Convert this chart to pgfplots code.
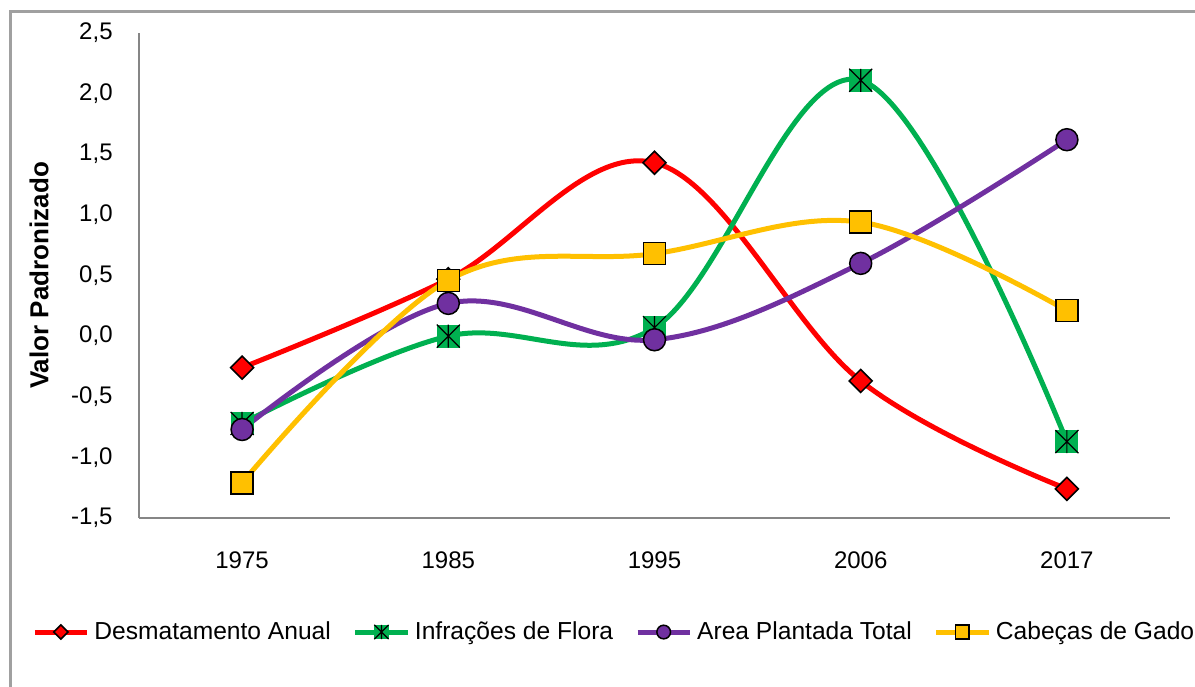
\documentclass[border=0pt]{standalone}
\usepackage{pgfplots}
\pgfplotsset{compat=1.18}
\usepackage{fontspec}
\setmainfont{Liberation Sans}
\definecolor{cred}{RGB}{255,0,0}
\definecolor{cgreen}{RGB}{0,176,80}
\definecolor{cpurple}{RGB}{112,48,160}
\definecolor{cgold}{RGB}{255,192,0}
\definecolor{axgray}{RGB}{134,134,134}
\definecolor{frgray}{RGB}{160,160,160}
\pgfdeclareplotmark{xdiamond}{%
  \pgfpathmoveto{\pgfqpoint{0pt}{\pgfplotmarksize}}%
  \pgfpathlineto{\pgfqpoint{\pgfplotmarksize}{0pt}}%
  \pgfpathlineto{\pgfqpoint{0pt}{-\pgfplotmarksize}}%
  \pgfpathlineto{\pgfqpoint{-\pgfplotmarksize}{0pt}}%
  \pgfpathclose\pgfusepathqfillstroke}
\pgfdeclareplotmark{xstarsq}{%
  \pgfpathrectangle{\pgfqpoint{-\pgfplotmarksize}{-\pgfplotmarksize}}{\pgfqpoint{2\pgfplotmarksize}{2\pgfplotmarksize}}%
  \pgfusepathqfill
  \pgfpathmoveto{\pgfqpoint{-\pgfplotmarksize}{-\pgfplotmarksize}}\pgfpathlineto{\pgfqpoint{\pgfplotmarksize}{\pgfplotmarksize}}%
  \pgfpathmoveto{\pgfqpoint{-\pgfplotmarksize}{\pgfplotmarksize}}\pgfpathlineto{\pgfqpoint{\pgfplotmarksize}{-\pgfplotmarksize}}%
  \pgfpathmoveto{\pgfqpoint{0pt}{-\pgfplotmarksize}}\pgfpathlineto{\pgfqpoint{0pt}{\pgfplotmarksize}}%
  \pgfusepathqstroke}
\begin{document}
\begin{tikzpicture}
\path[use as bounding box] (-69.5pt,-84pt) rectangle (528pt,259pt);
\draw[frgray, line width=1.25pt] (540pt,253.35pt) -- (-64.25pt,253.35pt) -- (-64.25pt,-100pt);
\begin{axis}[
  at={(0pt,0pt)}, anchor=south west,
  scale only axis, width=515.5pt, height=242.5pt,
  xmin=-0.5, xmax=4.5, ymin=-1.5, ymax=2.5,
  clip=false,
  axis x line*=bottom, axis y line*=left,
  axis line style={-, draw=axgray, line width=1.25pt},
  major tick length=0pt,
  xtick={0,1,2,3,4},
  xticklabels={1975,1985,1995,2006,2017},
  ytick={-1.5,-1,-0.5,0,0.5,1,1.5,2,2.5},
  /pgf/number format/fixed,
  /pgf/number format/fixed zerofill,
  /pgf/number format/precision=1,
  /pgf/number format/use comma,
  /pgf/number format/assume math mode=true,
  yticklabel style={font=\fontsize{12}{14}\selectfont, anchor=east, inner sep=0pt, xshift=-13pt},
  xticklabel style={font=\fontsize{12}{14}\selectfont, anchor=center, inner sep=0pt, yshift=-21pt},
  ylabel={Valor Padronizado},
  every axis y label/.style={at={(axis description cs:-0.097,0.5)}, rotate=90, anchor=center, font=\fontsize{13}{15}\selectfont\bfseries},
  legend columns=4,
  legend style={at={(axis description cs:-0.1038,-0.2351)}, anchor=west, draw=none, fill=none, inner sep=0pt,
    font=\fontsize{12.3}{14}\selectfont,
    nodes={inner xsep=2.5pt, inner ysep=0pt},
    /tikz/every even column/.append style={column sep=8.5pt}},
  legend image code/.code={\draw[#1, mark repeat=2, mark phase=2, every mark/.append style={scale=0.62}] plot coordinates {(0pt,0pt) (13pt,0pt) (26pt,0pt)};},
  every axis plot/.append style={line width=2.5pt, smooth, tension=0.6},
]
\addplot[cred, mark=xdiamond, mark size=5.75pt, mark options={draw=black, fill=cred, line width=0.75pt}]
  coordinates {(0,-0.26) (1,0.47) (2,1.43) (3,-0.37) (4,-1.26)};
\addlegendentry{Desmatamento Anual}
\addplot[cgreen, mark=xstarsq, mark size=5.75pt, mark options={draw=black, fill=cgreen, line width=0.6pt}]
  coordinates {(0,-0.72) (1,0.00) (2,0.07) (3,2.11) (4,-0.87)};
\addlegendentry{Infrações de Flora}
\addplot[cpurple, mark=*, mark size=5.5pt, mark options={draw=black, fill=cpurple, line width=0.75pt}]
  coordinates {(0,-0.77) (1,0.27) (2,-0.03) (3,0.60) (4,1.62)};
\addlegendentry{Area Plantada Total}
\addplot[cgold, mark=square*, mark size=5.5pt, mark options={draw=black, fill=cgold, line width=0.75pt}]
  coordinates {(0,-1.21) (1,0.46) (2,0.68) (3,0.94) (4,0.21)};
\addlegendentry{Cabeças de Gado}
\end{axis}
\end{tikzpicture}
\end{document}
